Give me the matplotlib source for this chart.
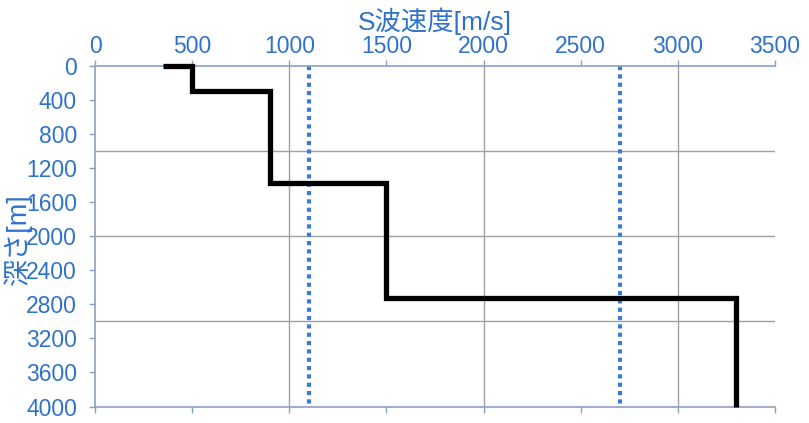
import matplotlib
matplotlib.use("Agg")
import matplotlib.pyplot as plt

# Data
velocity_path = [350, 500, 500, 900, 900, 1500, 1500, 3300, 3300]
depth_path = [0, 0, 300, 300, 1380, 1380, 2730, 2730, 4000]
reference_velocities = [1100, 2700]
x_grid = [1000, 2000, 3000]
y_grid = [1000, 2000, 3000]
x_ticks = [0, 500, 1000, 1500, 2000, 2500, 3000, 3500]
y_ticks = [0, 400, 800, 1200, 1600, 2000, 2400, 2800, 3200, 3600, 4000]
x_label = "S波速度[m/s]"
y_label = "深さ[m]"

plt.rcParams['font.family'] = ['Liberation Sans', 'Noto Sans CJK JP', 'DejaVu Sans']

blue = '#2f72cc'
spine_c = '#8aa0c2'
grid_c = '#a0a0a0'

fig = plt.figure(figsize=(8.09, 4.23), dpi=100)
ax = fig.add_axes([95/809, 1-406.5/423, 680/809, 340.8/423])

ax.set_xlim(0, 3500)
ax.set_ylim(4000, 0)

for g in x_grid:
    ax.axvline(g, color=grid_c, lw=1.0, zorder=1)
for g in y_grid:
    ax.axhline(g, color=grid_c, lw=1.0, zorder=1)

for v in reference_velocities:
    ax.plot([v, v], [0, 4000], color='#3a7bd8', lw=3.0,
            linestyle=(0, (1, 1.0)), dash_capstyle='butt', zorder=2)

ax.plot(velocity_path, depth_path, color='black', lw=3.8,
        solid_joinstyle='miter', solid_capstyle='butt', zorder=3, clip_on=False)

ax.set_xticks(x_ticks)
ax.set_yticks(y_ticks)
ax.xaxis.set_ticks_position('both')
ax.xaxis.set_label_position('top')
ax.tick_params(axis='x', which='major', top=True, bottom=True,
               labeltop=True, labelbottom=False, direction='out',
               length=4, width=1, color=spine_c, labelcolor=blue,
               labelsize=16.5, pad=1.5)
ax.tick_params(axis='y', which='major', left=True, right=False,
               direction='out', length=4, width=1, color=spine_c,
               labelcolor=blue, labelsize=16.5, pad=9)

for s in ['top', 'bottom', 'left']:
    ax.spines[s].set_color(spine_c)
    ax.spines[s].set_linewidth(1.2)
ax.spines['right'].set_visible(False)

ax.set_xlabel(x_label, color=blue, fontsize=19)
ax.xaxis.set_label_coords(0.5, 1.105)
ax.set_ylabel(y_label, color=blue, fontsize=19.5)
ax.yaxis.set_label_coords(-0.092, 0.49)

fig.savefig("out.png", dpi=100)
